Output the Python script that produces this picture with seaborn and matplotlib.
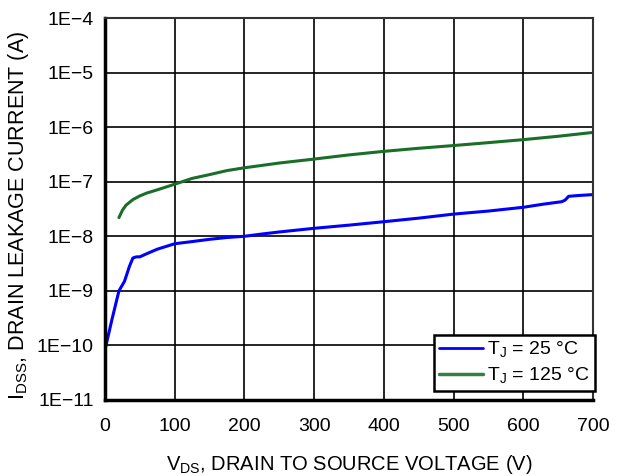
import numpy as np
import pandas as pd
import seaborn as sns
import matplotlib
matplotlib.use("Agg")
import matplotlib.pyplot as plt
from matplotlib.ticker import FixedLocator, FixedFormatter, NullLocator
from matplotlib.lines import Line2D

# Data
vds_25 = [0, 10, 20, 28, 35, 40, 45, 50, 60, 75, 100, 125, 150, 175, 200, 225, 250,
          300, 350, 400, 450, 500, 550, 600, 630, 655, 660, 665, 680, 700]
idss_25 = [8.3e-11, 3.0e-10, 1.0e-9, 1.5e-9, 2.8e-9, 4.0e-9, 4.2e-9, 4.2e-9, 4.8e-9, 5.8e-9,
           7.3e-9, 8.0e-9, 8.8e-9, 9.5e-9, 1.0e-8, 1.1e-8, 1.2e-8,
           1.4e-8, 1.6e-8, 1.85e-8, 2.15e-8, 2.55e-8, 2.9e-8, 3.4e-8, 3.9e-8, 4.3e-8, 4.6e-8,
           5.4e-8, 5.6e-8, 5.8e-8]
vds_125 = [20, 25, 30, 40, 50, 60, 75, 100, 125, 150, 175, 200, 250, 300, 350, 400,
           450, 500, 550, 600, 650, 700]
idss_125 = [2.2e-8, 3.0e-8, 3.7e-8, 4.7e-8, 5.5e-8, 6.2e-8, 7.1e-8, 9.0e-8, 1.15e-7, 1.35e-7,
            1.6e-7, 1.8e-7, 2.2e-7, 2.6e-7, 3.1e-7, 3.6e-7, 4.1e-7, 4.6e-7, 5.2e-7, 5.9e-7,
            6.8e-7, 8.0e-7]
series_labels = [r"T$_{\mathregular{J}}$ = 25 °C", r"T$_{\mathregular{J}}$ = 125 °C"]
x_ticks = [0, 100, 200, 300, 400, 500, 600, 700]
y_ticks = [1e-11, 1e-10, 1e-9, 1e-8, 1e-7, 1e-6, 1e-5, 1e-4]
y_tick_labels = ["1E\u221211", "1E\u221210", "1E\u22129", "1E\u22128",
                 "1E\u22127", "1E\u22126", "1E\u22125", "1E\u22124"]

df = pd.concat([
    pd.DataFrame({"VDS": vds_25, "IDSS": idss_25, "Series": series_labels[0]}),
    pd.DataFrame({"VDS": vds_125, "IDSS": idss_125, "Series": series_labels[1]}),
])

sns.set_style("white")
plt.rcParams["font.family"] = ["Liberation Sans", "DejaVu Sans"]
plt.rcParams["mathtext.fontset"] = "custom"
plt.rcParams["mathtext.rm"] = "Liberation Sans"
plt.rcParams["text.color"] = "black"
plt.rcParams["axes.labelcolor"] = "black"

FS_TICK = 14
FS_LABEL = 14.5

fig = plt.figure(figsize=(6.33, 4.76), dpi=100)
ax = fig.add_axes([105 / 633, 1 - 400 / 476, (593 - 105) / 633, (400 - 18) / 476])

sns.lineplot(data=df, x="VDS", y="IDSS", hue="Series", ax=ax,
             palette={series_labels[0]: "#0000ff", series_labels[1]: "#1a6e28"},
             linewidth=2.2, legend=False, sort=False)

ax.set_yscale("log")
ax.set_xlim(0, 700)
ax.set_ylim(1e-11, 1e-4)
ax.xaxis.set_major_locator(FixedLocator(x_ticks))
ax.yaxis.set_major_locator(FixedLocator(y_ticks))
ax.yaxis.set_major_formatter(FixedFormatter(y_tick_labels))
ax.yaxis.set_minor_locator(NullLocator())
ax.grid(True, which="major", color="black", linewidth=1.2)
ax.set_axisbelow(True)
ax.tick_params(axis="both", length=0, labelsize=FS_TICK, colors="black")
ax.tick_params(axis="x", pad=13)
ax.tick_params(axis="y", pad=8)

for side, lw, col in [("left", 2.5, "black"), ("bottom", 2.5, "black"),
                      ("top", 1.5, "#333333"), ("right", 1.5, "#333333")]:
    ax.spines[side].set_linewidth(lw)
    ax.spines[side].set_color(col)

ax.set_xlabel(r"V$_{\mathregular{DS}}$, DRAIN TO SOURCE VOLTAGE (V)", fontsize=FS_LABEL, labelpad=13)
ax.set_ylabel(r"I$_{\mathregular{DSS}}$, DRAIN LEAKAGE CURRENT (A)", fontsize=15.5, labelpad=6)
ax.yaxis.set_label_coords(-0.152, 0.482)

handles = [Line2D([], [], color="#0000ff", linewidth=2),
           Line2D([], [], color="#3a7d44", linewidth=2.5)]
leg = ax.legend(handles, series_labels, loc="lower right", bbox_to_anchor=(1.004, 0.024),
                fontsize=FS_TICK, frameon=True, fancybox=False, framealpha=1,
                edgecolor="black", handlelength=2.3, handletextpad=0.2,
                borderpad=0.25, labelspacing=0.3, borderaxespad=0)
leg.get_frame().set_linewidth(1.8)

fig.savefig("out.png", dpi=100)
